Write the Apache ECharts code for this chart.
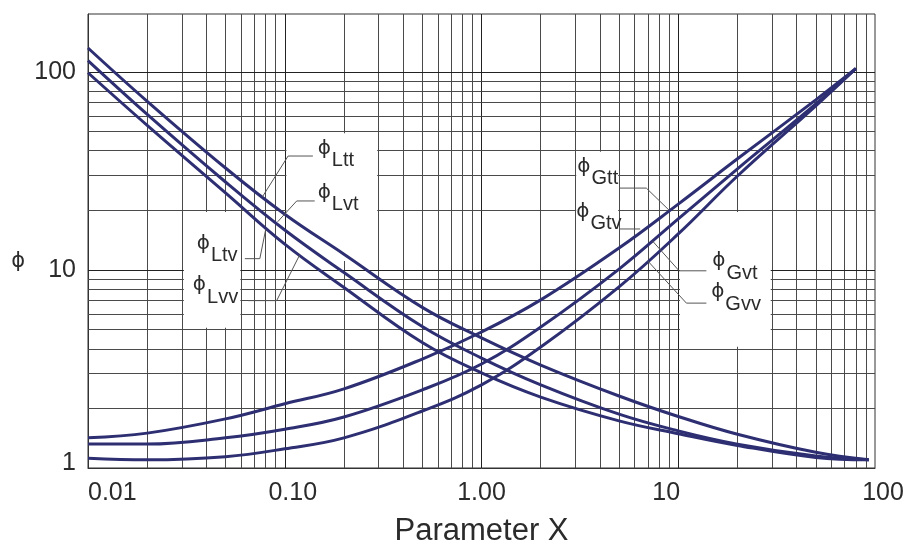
<!DOCTYPE html>
<html>
<head>
<meta charset="utf-8">
<script src="https://cdn.jsdelivr.net/npm/echarts@6/dist/echarts.min.js"></script>
<style>
html, body { margin: 0; padding: 0; background: #fff; }
#chart { width: 909px; height: 555px; }
</style>
</head>
<body>
<div id="chart"></div>
<script>
// axis ticks
var xTicks = [0.01, 0.1, 1, 10, 100];
var xTickLabels = ['0.01', '0.10', '1.00', '10', '100'];
var yTicks = [1, 10, 100];
var yTickLabels = ['1', '10', '100'];

// log grid: decades and the 1..9 steps inside each
var xGridDecades = [0.01, 0.1, 1, 10, 100];
var yGridDecades = [1, 10, 100];
var gridSteps = [1, 2, 3, 4, 5, 6, 7, 8, 9];

// liquid curves
var xL = [0.01, 0.02, 0.05, 0.1, 0.2, 0.5, 1, 2, 5, 10, 20, 50, 93];
var phiLtt = [132, 71.0, 32.7, 19.1, 12.0, 6.47, 4.54, 3.31, 2.31, 1.82, 1.48, 1.20, 1.10];
var phiLvt = [114, 61.0, 27.8, 15.9, 9.7, 5.18, 3.59, 2.63, 1.87, 1.54, 1.32, 1.15, 1.10];
var phiLvv = [99, 53.7, 24.5, 13.5, 8.16, 4.30, 3.02, 2.28, 1.73, 1.49, 1.30, 1.13, 1.10];

// gas curves
var xG = [0.01, 0.02, 0.05, 0.1, 0.2, 0.5, 1, 2, 5, 10, 20, 50, 80];
var phiGtt = [1.42, 1.50, 1.77, 2.11, 2.51, 3.55, 4.86, 7.06, 12.9, 21.5, 36.4, 72.2, 104];
var phiGtv = [1.32, 1.32, 1.42, 1.57, 1.81, 2.48, 3.35, 5.15, 10.1, 18.1, 32.4, 68.9, 104];
var phiGvv = [1.12, 1.10, 1.14, 1.25, 1.42, 1.94, 2.63, 4.08, 8.21, 15.2, 29.8, 67.3, 104];

var FONT = '"Liberation Sans", Arial, sans-serif';
var PHI_FONT = '"DejaVu Sans", sans-serif';
var TEXT = '#2b2b2b';
var CURVE = '#2d2f72';
var X_MIN = 0.01, X_MAX = 100, Y_MIN = 1, Y_MAX = 196;

// label boxes that blank the grid: [x1, x2, y1, y2]
var boxes = [
    [0.102, 0.295, 11.1, 49],
    [0.0307, 0.0595, 5.1, 19.6],
    [3.03, 4.95, 10.2, 39.5],
    [10.2, 29.5, 4.1, 19.6]
];

// curve names and their leader lines
var notes = [
    {sub: 'Ltt', at: [0.147, 35.5], leader: [[0.139, 37.6], [0.104, 37.6], [0.077, 23.4]]},
    {sub: 'Lvt', at: [0.147, 21.3], leader: [[0.142, 22.3], [0.115, 22.3], [0.092, 17.5]]},
    {sub: 'Ltv', at: [0.0357, 11.8], leader: [[0.0627, 11.4], [0.0747, 11.4], [0.080, 16.0]]},
    {sub: 'Lvv', at: [0.0341, 7.3], leader: [[0.065, 7.0], [0.091, 7.0], [0.119, 11.9]]},
    {sub: 'Gtt', at: [3.07, 28.8], leader: [[5.02, 25.9], [6.88, 25.9], [9.0, 20.0]]},
    {sub: 'Gtv', at: [3.03, 17.1], leader: [[5.02, 16.1], [6.4, 16.1]]},
    {sub: 'Gvt', at: [14.9, 9.65], leader: [[13.9, 9.9], [10.1, 9.9], [7.4, 14.0]]},
    {sub: 'Gvv', at: [14.7, 6.73], leader: [[13.9, 6.8], [11.0, 6.8], [7.0, 11.1]]}
];

function pairs(xs, ys) {
    return xs.map(function (x, i) { return [x, ys[i]]; });
}

function tickFormatter(ticks, labels, styles) {
    return function (v) {
        for (var i = 0; i < ticks.length; i++) {
            if (Math.abs(Math.log10(v) - Math.log10(ticks[i])) < 1e-6) {
                return '{' + styles[i] + '|' + labels[i] + '}';
            }
        }
        return '';
    };
}

function gridLines(decades, axis, lo, hi) {
    var out = [];
    decades.forEach(function (d) {
        gridSteps.forEach(function (m) {
            var v = +(d * m).toPrecision(6);
            if (v > lo && v < hi * 1.0001 && !(axis === 'xAxis' && v >= hi)) {
                var item = {lineStyle: {color: m === 1 ? '#222' : '#4a4a4a'}};
                item[axis] = v;
                out.push(item);
            }
        });
    });
    return out;
}

var tickFont = {fontFamily: FONT, fontSize: 25, color: TEXT};
var rich = {
    c: tickFont,
    r: Object.assign({padding: [0, 0, 0, 16]}, tickFont),
    l: Object.assign({padding: [0, 24, 0, 0]}, tickFont),
    u: Object.assign({padding: [0, 0, 10, 0]}, tickFont)
};

var chart = echarts.init(document.getElementById('chart'));

var series = [];

// grid lines + white label boxes
series.push({
    type: 'line',
    data: [],
    silent: true,
    markLine: {
        silent: true,
        z: 0.5,
        animation: false,
        symbol: ['none', 'none'],
        label: {show: false},
        emphasis: {disabled: true},
        lineStyle: {width: 1, type: 'solid'},
        data: gridLines(xGridDecades, 'xAxis', X_MIN, X_MAX)
            .concat(gridLines(yGridDecades, 'yAxis', Y_MIN, Y_MAX))
    },
    markArea: {
        silent: true,
        z: 1,
        animation: false,
        itemStyle: {color: '#ffffff', opacity: 1},
        emphasis: {disabled: true},
        data: boxes.map(function (b) {
            return [{coord: [b[0], b[2]]}, {coord: [b[1], b[3]]}];
        })
    }
});

// the curves
[['ϕLtt', xL, phiLtt], ['ϕLvt / ϕLtv', xL, phiLvt], ['ϕLvv', xL, phiLvv],
 ['ϕGtt', xG, phiGtt], ['ϕGtv / ϕGvt', xG, phiGtv], ['ϕGvv', xG, phiGvv]].forEach(function (c) {
    series.push({
        name: c[0],
        type: 'line',
        z: 3,
        data: pairs(c[1], c[2]),
        smooth: 0.4,
        showSymbol: false,
        silent: true,
        lineStyle: {color: CURVE, width: 3}
    });
});

// leader lines
notes.forEach(function (n) {
    series.push({
        type: 'line',
        z: 4,
        data: n.leader,
        showSymbol: false,
        silent: true,
        lineStyle: {color: '#555', width: 1}
    });
});

// curve names
series.push({
    type: 'line',
    data: [],
    markPoint: {
        z: 5,
        animation: false,
        symbol: 'circle',
        symbolSize: 0,
        silent: true,
        label: {
            show: true,
            position: 'right',
            distance: 0,
            rich: {
                p: {fontFamily: PHI_FONT, fontSize: 20, color: TEXT, lineHeight: 20, padding: [0, 1, 12, 0], verticalAlign: 'bottom'},
                s: {fontFamily: FONT, fontSize: 20, color: TEXT, lineHeight: 20, verticalAlign: 'bottom'}
            }
        },
        data: notes.map(function (n) {
            return {
                coord: n.at,
                label: {formatter: '{p|ϕ}{s|' + n.sub + '}'}
            };
        })
    }
});

chart.setOption({
    animation: false,
    backgroundColor: '#ffffff',
    grid: {
        left: 88, right: 34, top: 14, bottom: 87,
        show: true, borderColor: '#333', borderWidth: 1
    },
    xAxis: {
        type: 'log',
        logBase: 10,
        min: X_MIN,
        max: X_MAX,
        name: 'Parameter X',
        nameLocation: 'middle',
        nameGap: 48,
        nameTextStyle: {fontFamily: FONT, fontSize: 31, color: TEXT},
        axisLine: {lineStyle: {color: '#333'}},
        axisTick: {show: false},
        splitLine: {show: false},
        axisLabel: {
            margin: 13,
            alignMinLabel: 'left',
            formatter: tickFormatter(xTicks, xTickLabels, ['c', 'r', 'c', 'l', 'r']),
            rich: rich
        }
    },
    yAxis: {
        type: 'log',
        logBase: 10,
        min: Y_MIN,
        max: Y_MAX,
        name: 'ϕ',
        nameLocation: 'middle',
        nameRotate: 0,
        nameGap: 63,
        nameTextStyle: {fontFamily: PHI_FONT, fontSize: 21, color: TEXT, verticalAlign: 'top', lineHeight: 42},
        axisLine: {lineStyle: {color: '#333'}},
        axisTick: {show: false},
        splitLine: {show: false},
        axisLabel: {
            margin: 12,
            formatter: tickFormatter(yTicks, yTickLabels, ['u', 'c', 'c']),
            rich: rich
        }
    },
    series: series
});
</script>
</body>
</html>
